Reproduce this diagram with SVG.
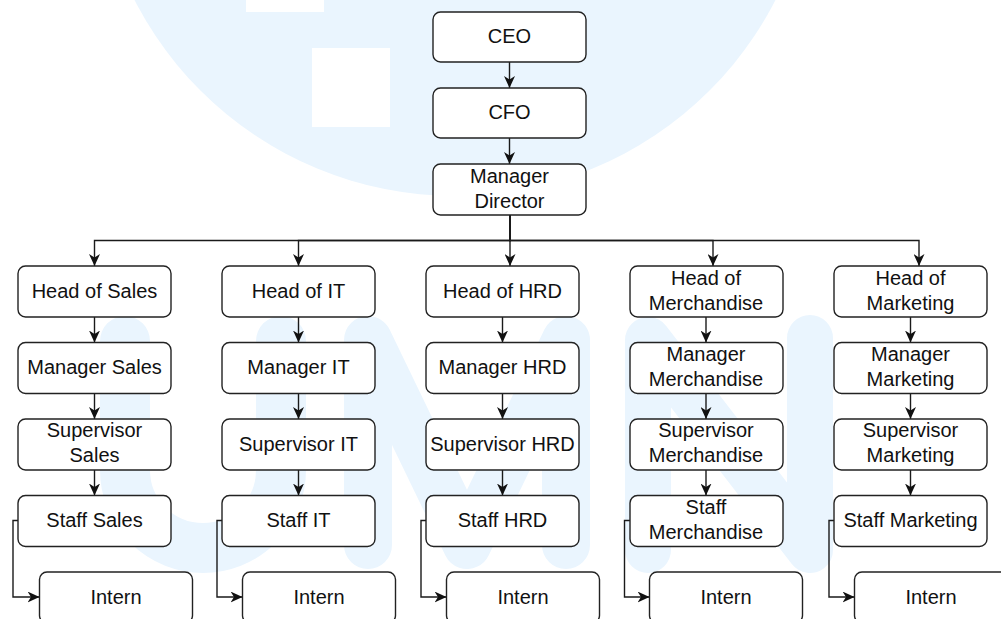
<svg xmlns="http://www.w3.org/2000/svg" width="1001" height="619" viewBox="0 0 1001 619">
<style>
.box{fill:#ffffff;stroke:#222222;stroke-width:1.4}
.t{font-family:"Liberation Sans",Arial,Helvetica,sans-serif;font-size:20px;fill:#111111;text-anchor:middle}
.c{fill:none;stroke:#1a1a1a;stroke-width:1.4;marker-end:url(#arr)}
.wm{fill:none;stroke:#eaf5fe;stroke-linecap:round;stroke-linejoin:round}
</style>
<defs>
<marker id="arr" viewBox="0 0 12 11" refX="12" refY="5.5" markerWidth="12" markerHeight="11" markerUnits="userSpaceOnUse" orient="auto">
<path d="M0,0 L12,5.5 L0,11 L3.5,5.5 Z" fill="#111111"/>
</marker>
</defs>
<rect x="0" y="0" width="1001" height="619" fill="#ffffff"/>
<g id="watermark">
<circle cx="455" cy="-164" r="360" fill="#eaf5fe"/>
<rect x="246" y="-66" width="78" height="78" fill="#ffffff"/>
<rect x="312" y="48" width="78" height="79" fill="#ffffff"/>
<path class="wm" stroke-width="50" d="M125,341 V470 A78,78 0 0 0 281,470 V341"/>
<path class="wm" stroke-width="48" d="M368,545 V340 L467,545 L566,340 V545"/>
<path class="wm" stroke-width="46" d="M648,550 V340 L810,550 V338"/>
</g>
<g id="connectors">
<path class="c" d="M509.5,62 V88"/>
<path class="c" d="M509.5,138 V164"/>
<path class="c" d="M510,215 V240.5 H94.5 V266"/>
<path class="c" d="M510,215 V240.5 H298.5 V266"/>
<path class="c" d="M510,215 V266"/>
<path class="c" d="M510,215 V240.5 H713 V266"/>
<path class="c" d="M510,215 V240.5 H919 V266"/>
<path class="c" d="M94.5,317 V342.5"/>
<path class="c" d="M94.5,393.5 V419"/>
<path class="c" d="M94.5,470 V495.5"/>
<path class="c" d="M18,520.5 H13 V597 H39.5"/>
<path class="c" d="M298.5,317 V342.5"/>
<path class="c" d="M298.5,393.5 V419"/>
<path class="c" d="M298.5,470 V495.5"/>
<path class="c" d="M222,520.5 H217 V597 H242.5"/>
<path class="c" d="M502.5,317 V342.5"/>
<path class="c" d="M502.5,393.5 V419"/>
<path class="c" d="M502.5,470 V495.5"/>
<path class="c" d="M426,520.5 H421 V597 H446.5"/>
<path class="c" d="M706,317 V342.5"/>
<path class="c" d="M706,393.5 V419"/>
<path class="c" d="M706,470 V495.5"/>
<path class="c" d="M630,520.5 H624.5 V597 H649.5"/>
<path class="c" d="M910.5,317 V342.5"/>
<path class="c" d="M910.5,393.5 V419"/>
<path class="c" d="M910.5,470 V495.5"/>
<path class="c" d="M834,520.5 H829 V597 H854.5"/>
</g>
<g id="ceo"><rect class="box" x="433" y="12" width="153" height="50" rx="7.5"/><text class="t" x="509.5" y="43">CEO</text></g>
<g id="cfo"><rect class="box" x="433" y="88" width="153" height="50" rx="7.5"/><text class="t" x="509.5" y="119">CFO</text></g>
<g id="manager-director"><rect class="box" x="433" y="164" width="153" height="51" rx="7.5"/><text class="t" x="509.5" y="182.5">Manager</text><text class="t" x="509.5" y="207.5">Director</text></g>

<g id="head-sales"><rect class="box" x="18" y="266" width="153" height="51" rx="7.5"/><text class="t" x="94.5" y="297.5">Head of Sales</text></g>
<g id="manager-sales"><rect class="box" x="18" y="342.5" width="153" height="51" rx="7.5"/><text class="t" x="94.5" y="374">Manager Sales</text></g>
<g id="supervisor-sales"><rect class="box" x="18" y="419" width="153" height="51" rx="7.5"/><text class="t" x="94.5" y="437">Supervisor</text><text class="t" x="94.5" y="462">Sales</text></g>
<g id="staff-sales"><rect class="box" x="18" y="495.5" width="153" height="51" rx="7.5"/><text class="t" x="94.5" y="527">Staff Sales</text></g>
<g id="intern-sales"><rect class="box" x="39.5" y="572" width="153" height="51" rx="7.5"/><text class="t" x="116" y="604">Intern</text></g>

<g id="head-it"><rect class="box" x="222" y="266" width="153" height="51" rx="7.5"/><text class="t" x="298.5" y="297.5">Head of IT</text></g>
<g id="manager-it"><rect class="box" x="222" y="342.5" width="153" height="51" rx="7.5"/><text class="t" x="298.5" y="374">Manager IT</text></g>
<g id="supervisor-it"><rect class="box" x="222" y="419" width="153" height="51" rx="7.5"/><text class="t" x="298.5" y="450.5">Supervisor IT</text></g>
<g id="staff-it"><rect class="box" x="222" y="495.5" width="153" height="51" rx="7.5"/><text class="t" x="298.5" y="527">Staff IT</text></g>
<g id="intern-it"><rect class="box" x="242.5" y="572" width="153" height="51" rx="7.5"/><text class="t" x="319" y="604">Intern</text></g>

<g id="head-hrd"><rect class="box" x="426" y="266" width="153" height="51" rx="7.5"/><text class="t" x="502.5" y="297.5">Head of HRD</text></g>
<g id="manager-hrd"><rect class="box" x="426" y="342.5" width="153" height="51" rx="7.5"/><text class="t" x="502.5" y="374">Manager HRD</text></g>
<g id="supervisor-hrd"><rect class="box" x="426" y="419" width="153" height="51" rx="7.5"/><text class="t" x="502.5" y="450.5">Supervisor HRD</text></g>
<g id="staff-hrd"><rect class="box" x="426" y="495.5" width="153" height="51" rx="7.5"/><text class="t" x="502.5" y="527">Staff HRD</text></g>
<g id="intern-hrd"><rect class="box" x="446.5" y="572" width="153" height="51" rx="7.5"/><text class="t" x="523" y="604">Intern</text></g>

<g id="head-merchandise"><rect class="box" x="630" y="266" width="153" height="51" rx="7.5"/><text class="t" x="706" y="284.5">Head of</text><text class="t" x="706" y="309.5">Merchandise</text></g>
<g id="manager-merchandise"><rect class="box" x="630" y="342.5" width="153" height="51" rx="7.5"/><text class="t" x="706" y="361">Manager</text><text class="t" x="706" y="386">Merchandise</text></g>
<g id="supervisor-merchandise"><rect class="box" x="630" y="419" width="153" height="51" rx="7.5"/><text class="t" x="706" y="437">Supervisor</text><text class="t" x="706" y="462">Merchandise</text></g>
<g id="staff-merchandise"><rect class="box" x="630" y="495.5" width="153" height="51" rx="7.5"/><text class="t" x="706" y="513.5">Staff</text><text class="t" x="706" y="538.5">Merchandise</text></g>
<g id="intern-merchandise"><rect class="box" x="649.5" y="572" width="153" height="51" rx="7.5"/><text class="t" x="726" y="604">Intern</text></g>

<g id="head-marketing"><rect class="box" x="834" y="266" width="153" height="51" rx="7.5"/><text class="t" x="910.5" y="284.5">Head of</text><text class="t" x="910.5" y="309.5">Marketing</text></g>
<g id="manager-marketing"><rect class="box" x="834" y="342.5" width="153" height="51" rx="7.5"/><text class="t" x="910.5" y="361">Manager</text><text class="t" x="910.5" y="386">Marketing</text></g>
<g id="supervisor-marketing"><rect class="box" x="834" y="419" width="153" height="51" rx="7.5"/><text class="t" x="910.5" y="437">Supervisor</text><text class="t" x="910.5" y="462">Marketing</text></g>
<g id="staff-marketing"><rect class="box" x="834" y="495.5" width="153" height="51" rx="7.5"/><text class="t" x="910.5" y="527">Staff Marketing</text></g>
<g id="intern-marketing"><rect class="box" x="854.5" y="572" width="153" height="51" rx="7.5"/><text class="t" x="931" y="604">Intern</text></g>
</svg>
